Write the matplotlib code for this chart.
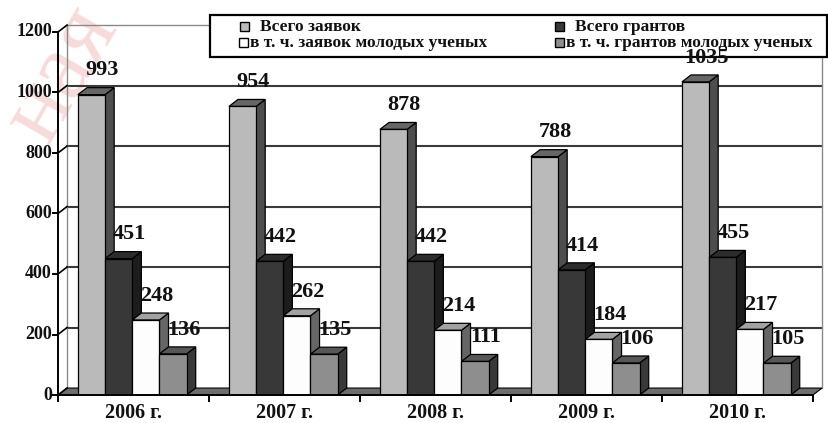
import matplotlib
matplotlib.use("Agg")
import matplotlib.pyplot as plt
from matplotlib.patches import Polygon, Rectangle

years = ["2006 г.", "2007 г.", "2008 г.", "2009 г.", "2010 г."]
applications = [993, 954, 878, 788, 1035]
grants = [451, 442, 442, 414, 455]
young_applications = [248, 262, 214, 184, 217]
young_grants = [136, 135, 111, 106, 105]
series_names = ["Всего заявок", "Всего грантов",
                "в т. ч. заявок молодых ученых",
                "в т. ч. грантов молодых ученых"]
yticks = [0, 200, 400, 600, 800, 1000, 1200]

series = [applications, grants, young_applications, young_grants]
# (front, side, top)
colors = [("#bababa", "#4e4e4e", "#666666"),
          ("#383838", "#1c1c1c", "#2c2c2c"),
          ("#fdfdfd", "#666666", "#a2a2a2"),
          ("#8e8e8e", "#393939", "#575757")]

W_PX, H_PX = 829, 423
FONT = "Liberation Serif"
OFF, W = 0.132, 0.18          # bar offset / width in category units
DX, DY = 0.06, 23             # 3d depth in data units
TL_X, TL_Y = 0.033, 20        # tick lengths

fig = plt.figure(figsize=(W_PX / 100, H_PX / 100), dpi=100, facecolor="white")
ax = fig.add_axes([58 / W_PX, 28 / H_PX, 755 / W_PX, 363 / H_PX])
ax.set_xlim(0, 5)
ax.set_ylim(0, 1200)
ax.axis("off")
ax.patch.set_visible(False)


def fpx(x, y):
    return (x / W_PX, 1 - y / H_PX)


# faint watermark
fig.text(*fpx(62, 74), "ная", rotation=60, fontsize=70, color="#eeb0b0",
         alpha=0.45, ha="center", va="center", zorder=-5, family=FONT)

# back wall
for v in yticks[1:]:
    ax.plot([DX, 5 + DX], [v + DY, v + DY], color="#3a3a3a" if v < 1200 else "#8a8a8a",
            lw=1.5 if v < 1200 else 1.0, zorder=2, clip_on=False)
ax.plot([DX, DX], [DY, 1200 + DY], color="#8a8a8a", lw=1.0, zorder=2, clip_on=False)
ax.plot([5 + DX, 5 + DX], [DY, 1200 + DY], color="#8a8a8a", lw=1.0, zorder=2, clip_on=False)

# floor
ax.add_patch(Polygon([(0, 0), (5, 0), (5 + DX, DY), (DX, DY)], closed=True,
                     fc="#6d6d6d", ec="black", lw=0.8, zorder=3, clip_on=False))

# bars
for j, (vals, (front, side, top)) in enumerate(zip(series, colors)):
    for i, v in enumerate(vals):
        x0 = i + OFF + j * W
        x1 = x0 + W
        z = 5 + j
        ax.add_patch(Polygon([(x1, 0), (x1 + DX, DY), (x1 + DX, v + DY), (x1, v)],
                             closed=True, fc=side, ec="black", lw=0.9, zorder=z))
        ax.add_patch(Polygon([(x0, v), (x0 + DX, v + DY), (x1 + DX, v + DY), (x1, v)],
                             closed=True, fc=top, ec="black", lw=0.9, zorder=z))
        ax.add_patch(Rectangle((x0, 0), W, v, fc=front, ec="black", lw=0.9, zorder=z))
        ax.text(x0 + W / 2 + 0.07, v + DY + 24, str(v), ha="center", va="bottom",
                fontsize=16, family=FONT, weight="bold", color="#111111", zorder=30)

# y axis
ax.plot([0, 0], [0, 1200], color="black", lw=1.4, zorder=12, clip_on=False)
for v in yticks:
    ax.plot([-TL_X, 0], [v, v], color="black", lw=1.4, zorder=12, clip_on=False)
    ax.plot([0, DX], [v, v + DY], color="black", lw=1.2, zorder=12, clip_on=False)
    ax.text(-TL_X - 0.008, v, str(v), ha="right", va="center", fontsize=13,
            family=FONT, weight="bold", color="#111111")

# x axis
ax.plot([0, 5], [0, 0], color="black", lw=1.4, zorder=12, clip_on=False)
for b in range(0, 6):
    ax.plot([b, b], [0, -TL_Y], color="black", lw=1.4, zorder=12, clip_on=False)
for i, lab in enumerate(years):
    ax.text(i + 0.5, -60, lab, ha="center", va="center", fontsize=14.5,
            family=FONT, weight="bold", color="#111111")

# legend (drawn in figure pixel positions)
tf = fig.transFigure
bx0, by0 = fpx(210, 57)
bx1, by1 = fpx(827, 15)
ax.add_patch(Rectangle((bx0, by0), bx1 - bx0, by1 - by0, transform=tf,
                       fc="white", ec="black", lw=1.6, zorder=20, clip_on=False))
leg_pos = [(240, 260, 27), (555, 575, 27), (239, 250, 43), (555, 566, 43)]
for (mx, tx, ty), name, (front, _, _) in zip(leg_pos, series_names, colors):
    mx0, my0 = fpx(mx, ty + 4.5)
    ax.add_patch(Rectangle((mx0, my0), 9 / W_PX, 9 / H_PX, transform=tf,
                           fc=front, ec="black", lw=1.0, zorder=21, clip_on=False))
    ax.text(*fpx(tx, ty), name, transform=tf, ha="left", va="center",
            fontsize=12.5, family=FONT, weight="bold", color="#111111", zorder=21)

fig.savefig("out.png", dpi=100)
